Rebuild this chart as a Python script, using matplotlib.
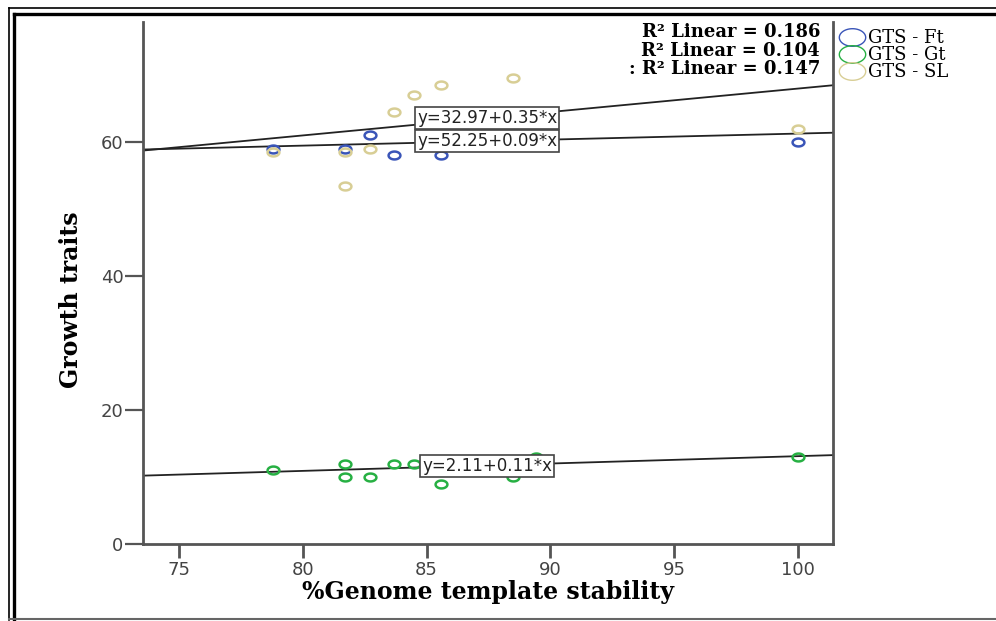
import numpy as np
import matplotlib.pyplot as plt
from matplotlib.path import Path
from matplotlib.lines import Line2D

# data
ft_x = [78.8, 81.7, 82.7, 83.7, 85.6, 100]
ft_y = [59, 59, 61, 58, 58, 60]
gt_x = [78.8, 81.7, 81.7, 82.7, 83.7, 84.5, 85.6, 88.5, 89.4, 100]
gt_y = [11, 12, 10, 10, 12, 12, 9, 10, 13, 13]
sl_x = [78.8, 81.7, 82.7, 81.7, 83.7, 84.5, 85.6, 88.5, 100]
sl_y = [58.5, 58.5, 59, 53.5, 64.5, 67, 68.5, 69.5, 62]

series_names = ['GTS - Ft', 'GTS - Gt', 'GTS - SL']
series_colors = ['#3a55b8', '#27b043', '#d8ce95']

fit_intercepts = [32.97, 52.25, 2.11]
fit_slopes = [0.35, 0.09, 0.11]
fit_labels = ['y=32.97+0.35*x', 'y=52.25+0.09*x', 'y=2.11+0.11*x']
fit_label_pos = [(87.45, 63.6), (87.45, 60.15), (87.45, 11.7)]

r2_labels = ['R\u00b2 Linear = 0.186', 'R\u00b2 Linear = 0.104', ': R\u00b2 Linear = 0.147']

fig = plt.figure(figsize=(9.96, 6.21), dpi=100)
W, H = 996, 621
ax = fig.add_axes([143 / W, 77 / H, 690 / W, 522 / H])
ax.set_xlim(73.56, 101.4)
ax.set_ylim(0, 77.9)

# flattened circle marker like the stretched original
t = np.linspace(0, 2 * np.pi, 60)
ell = Path(np.c_[1.5 * np.cos(t), np.sin(t)], closed=True)

for xs, ys, c in zip([ft_x, gt_x, sl_x], [ft_y, gt_y, sl_y], series_colors):
    ax.plot(xs, ys, ls='none', marker=ell, ms=8.5, mfc='none', mec=c, mew=1.8, zorder=3)

xl = np.array(ax.get_xlim())
for b0, b1 in zip(fit_intercepts, fit_slopes):
    ax.plot(xl, b0 + b1 * xl, color='#222222', lw=1.3, zorder=2)

for lab, (px, py) in zip(fit_labels, fit_label_pos):
    ax.text(px, py, lab, ha='center', va='center', fontsize=12, family='DejaVu Sans',
            color='#222222', zorder=5,
            bbox=dict(boxstyle='square,pad=0.12', fc='white', ec='#444444', lw=1.2))

ax.set_xticks([75, 80, 85, 90, 95, 100])
ax.set_yticks([0, 20, 40, 60])
ax.tick_params(axis='x', length=10, width=2, color='#555555', labelsize=13,
               labelcolor='#444444', pad=2)
ax.tick_params(axis='y', length=13, width=1.6, color='#555555', labelsize=13,
               labelcolor='#444444', pad=1)
for s in ['left', 'bottom', 'right']:
    ax.spines[s].set_color('#555555')
    ax.spines[s].set_linewidth(2)
ax.spines['top'].set_visible(False)

ax.set_xlabel('%Genome template stability', family='DejaVu Serif', fontweight='bold',
              fontsize=17, labelpad=1)
fig.text(71 / W, 1 - 300 / H, 'Growth traits', rotation=90, ha='center', va='center',
         family='DejaVu Serif', fontweight='bold', fontsize=17)

# legend
handles = [Line2D([], [], ls='none', marker=ell, ms=19, mfc='none', mec=c, mew=1.0)
           for c in series_colors]
fig.legend(handles, series_names, loc='upper left', bbox_to_anchor=(829 / W, 1 - 20 / H),
           frameon=False, prop={'family': 'DejaVu Serif', 'size': 13},
           labelspacing=-0.05, handletextpad=0.15, borderpad=0, handlelength=1.5)

for i, lab in enumerate(r2_labels):
    fig.text(820 / W, 1 - (32 + 18.5 * i) / H, lab, ha='right', va='center',
             family='DejaVu Serif', fontweight='bold', fontsize=13)

# outer double frame
fig.add_artist(Line2D([9 / W, 1], [1 - 8 / H] * 2, color='black', lw=1.2))
fig.add_artist(Line2D([14 / W, 1], [1 - 14 / H] * 2, color='black', lw=2.4))
fig.add_artist(Line2D([9 / W] * 2, [1 / H, 1 - 8 / H], color='black', lw=1.2))
fig.add_artist(Line2D([14 / W] * 2, [1 / H, 1 - 14 / H], color='black', lw=2.4))
fig.add_artist(Line2D([9 / W, 1], [2 / H] * 2, color='#666666', lw=1.5))

fig.savefig('out.png', dpi=100)
